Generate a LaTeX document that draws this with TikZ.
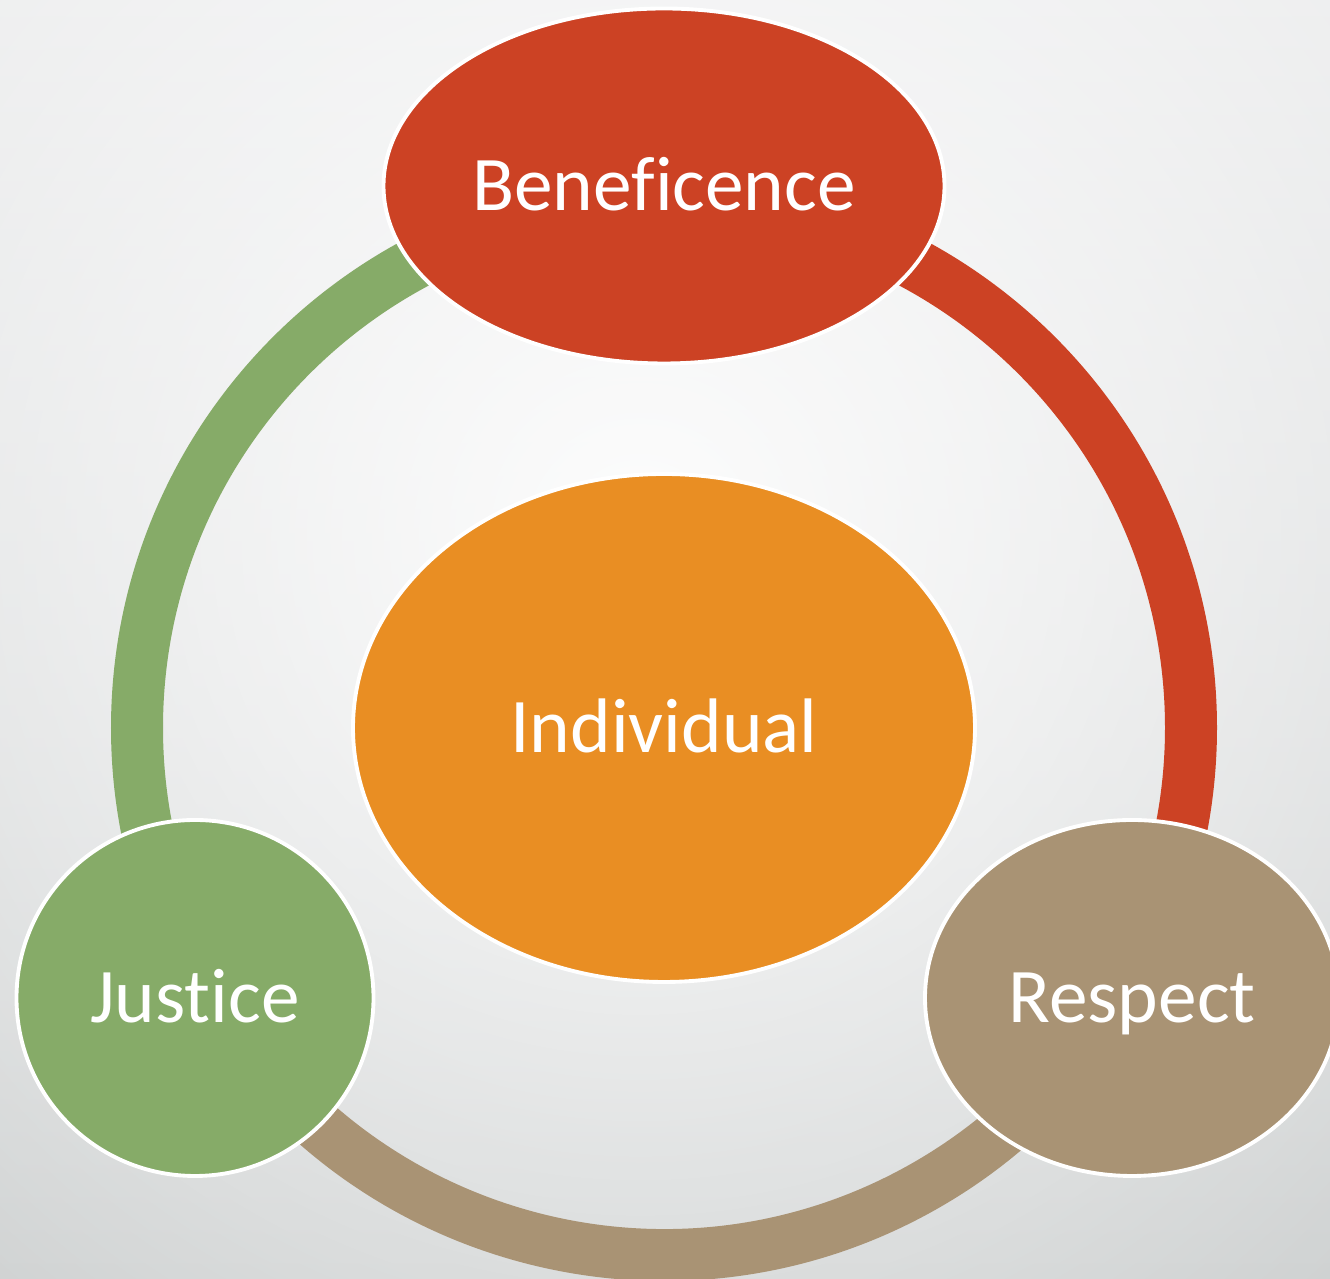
\documentclass[tikz,border=0pt]{standalone}
\usepackage{fontspec}
\newfontfamily\carlito[Ligatures=NoCommon]{Carlito}
\usetikzlibrary{shapes.geometric, fadings}
\definecolor{benered}{RGB}{204,66,36}
\definecolor{indorange}{RGB}{233,142,35}
\definecolor{justgreen}{RGB}{134,171,104}
\definecolor{resptan}{RGB}{169,147,116}
\definecolor{bgtop}{RGB}{228,229,230}
\definecolor{bgmid}{RGB}{232,233,233}
\definecolor{bgbot}{RGB}{186,190,190}
\tikzfading[name=glowfade, inner color=transparent!0, outer color=transparent!100]

\begin{document}
\begin{tikzpicture}[
	bubble/.style={ellipse, draw=white, line width=1.1pt, text=white, inner sep=0pt,
		font=\carlito\fontsize{22}{26}\selectfont, text height=0.5cm, text depth=0cm},
	band/.style={line width=0.52cm}
]
	\useasboundingbox (0,0) rectangle (13.3,12.79);
	\clip (0,0) rectangle (13.3,12.79);
	% background
	\shade[top color=bgtop, middle color=bgmid, bottom color=bgbot] (0,0) rectangle (13.3,12.79);
	\fill[white, path fading=glowfade, fill opacity=0.95] (6.4,7.4) circle (15);
	% ring
	\coordinate (hub) at (6.64,5.51);
	\draw[band, justgreen] (hub) ++(90:5.27) arc[start angle=90, end angle=210, radius=5.27];
	\draw[band, benered] (hub) ++(90:5.27) arc[start angle=90, end angle=-30, radius=5.27];
	\draw[band, resptan] (hub) ++(210:5.27) arc[start angle=210, end angle=330, radius=5.27];
	% nodes
	\node[bubble, fill=benered, minimum width=5.61cm, minimum height=3.55cm] at (6.64,10.93) (benef) {Beneficence};
	\node[bubble, fill=indorange, minimum width=6.22cm, minimum height=5.08cm] at (hub) (indiv) {Individual};
	\node[bubble, fill=justgreen, minimum width=3.57cm, minimum height=3.56cm] at (1.95,2.81) (just) {Justice};
	\node[bubble, fill=resptan, minimum width=4.14cm, minimum height=3.56cm] at (11.32,2.81) (resp) {Respect};
\end{tikzpicture}
\end{document}
